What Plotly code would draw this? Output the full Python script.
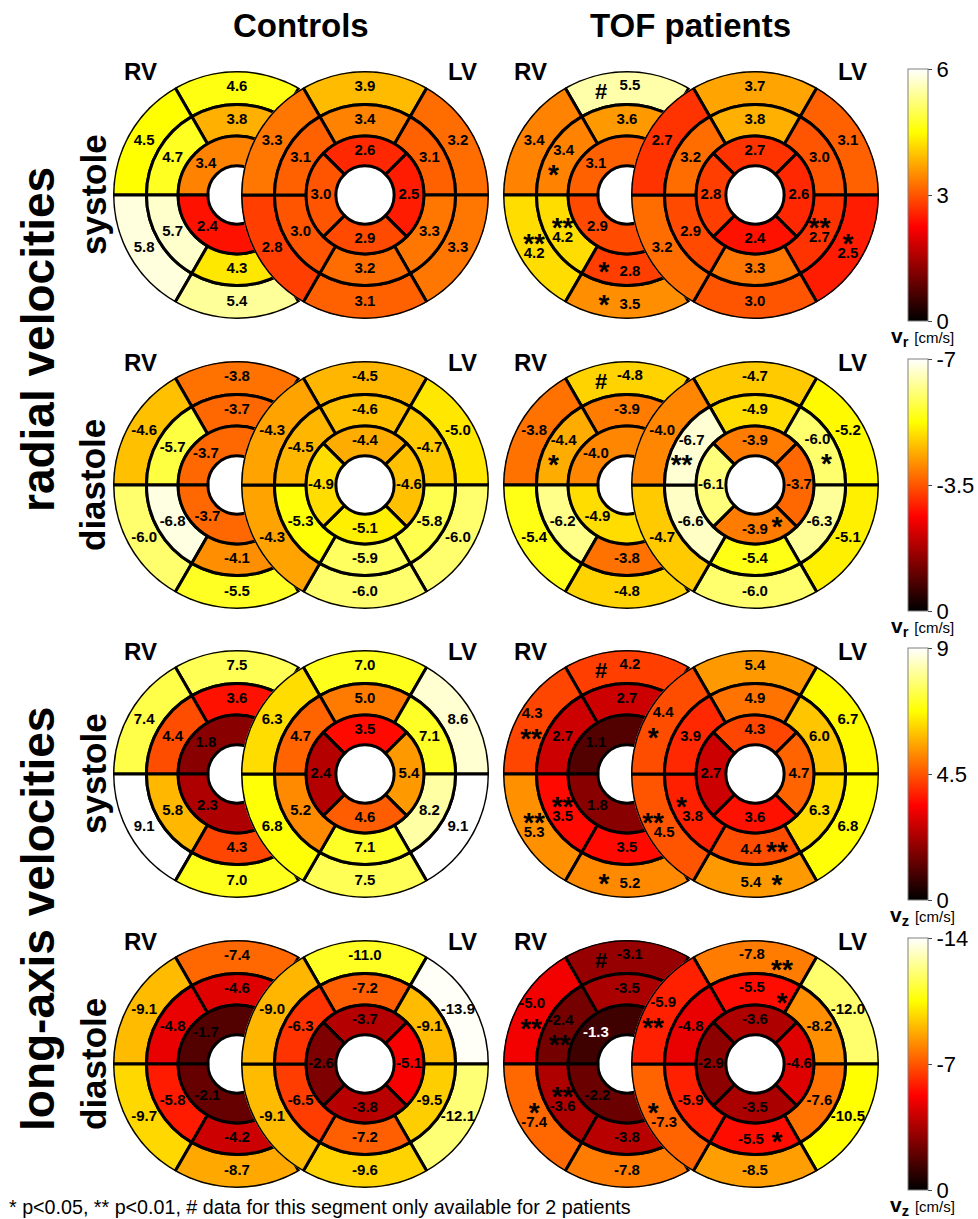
import numpy as np
import plotly.graph_objects as go

W, H = 978, 1219
FONT = "Liberation Sans, Arial, sans-serif"

# ------------------------------------------------------------------ data
# LV order: outer ring (top, upper-right, lower-right, bottom, lower-left, upper-left),
#           middle ring (same six), inner ring (top, right, bottom, left)
# RV order: outer ring (top, upper-left, lower-left, bottom), middle ring (same four),
#           inner ring (upper half, lower half)
CTRL_RAD_SYS_LV = [3.9, 3.2, 3.3, 3.1, 2.8, 3.3, 3.4, 3.1, 3.3, 3.2, 3.0, 3.1, 2.6, 2.5, 2.9, 3.0]
CTRL_RAD_SYS_RV = [4.6, 4.5, 5.8, 5.4, 3.8, 4.7, 5.7, 4.3, 3.4, 2.4]
TOF_RAD_SYS_LV = [3.7, 3.1, 2.5, 3.0, 3.2, 2.7, 3.8, 3.0, 2.7, 3.3, 2.9, 3.2, 2.7, 2.6, 2.4, 2.8]
TOF_RAD_SYS_RV = [5.5, 3.4, 4.2, 3.5, 3.6, 3.4, 4.2, 2.8, 3.1, 2.9]

CTRL_RAD_DIA_LV = [-4.5, -5.0, -6.0, -6.0, -4.3, -4.3, -4.6, -4.7, -5.8, -5.9, -5.3, -4.5, -4.4, -4.6, -5.1, -4.9]
CTRL_RAD_DIA_RV = [-3.8, -4.6, -6.0, -5.5, -3.7, -5.7, -6.8, -4.1, -3.7, -3.7]
TOF_RAD_DIA_LV = [-4.7, -5.2, -5.1, -6.0, -4.7, -4.0, -4.9, -6.0, -6.3, -5.4, -6.6, -6.7, -3.9, -3.7, -3.9, -6.1]
TOF_RAD_DIA_RV = [-4.8, -3.8, -5.4, -4.8, -3.9, -4.4, -6.2, -3.8, -4.0, -4.9]

CTRL_LAX_SYS_LV = [7.0, 8.6, 9.1, 7.5, 6.8, 6.3, 5.0, 7.1, 8.2, 7.1, 5.2, 4.7, 3.5, 5.4, 4.6, 2.4]
CTRL_LAX_SYS_RV = [7.5, 7.4, 9.1, 7.0, 3.6, 4.4, 5.8, 4.3, 1.8, 2.3]
TOF_LAX_SYS_LV = [5.4, 6.7, 6.8, 5.4, 4.5, 4.4, 4.9, 6.0, 6.3, 4.4, 3.8, 3.9, 4.3, 4.7, 3.6, 2.7]
TOF_LAX_SYS_RV = [4.2, 4.3, 5.3, 5.2, 2.7, 2.7, 3.5, 3.5, 1.1, 1.8]

CTRL_LAX_DIA_LV = [-11.0, -13.9, -12.1, -9.6, -9.1, -9.0, -7.2, -9.1, -9.5, -7.2, -6.5, -6.3, -3.7, -5.1, -3.8, -2.6]
CTRL_LAX_DIA_RV = [-7.4, -9.1, -9.7, -8.7, -4.6, -4.8, -5.8, -4.2, -1.7, -2.1]
TOF_LAX_DIA_LV = [-7.8, -12.0, -10.5, -8.5, -7.3, -5.9, -5.5, -8.2, -7.6, -5.5, -5.9, -4.8, -3.6, -4.6, -3.5, -2.9]
TOF_LAX_DIA_RV = [-3.1, -5.0, -7.4, -7.8, -3.5, -2.4, -3.6, -3.8, -1.3, -2.2]

# significance markers (segment index -> symbol)
TOF_RAD_SYS_LV_SIG = {2: "*", 8: "**"}
TOF_RAD_SYS_RV_SIG = {0: "#", 2: "**", 3: "*", 5: "*", 6: "**", 7: "*"}
TOF_RAD_DIA_LV_SIG = {7: "*", 11: "**", 14: "*"}
TOF_RAD_DIA_RV_SIG = {0: "#", 5: "*"}
TOF_LAX_SYS_LV_SIG = {3: "*", 4: "**", 5: "*", 9: "**", 10: "*"}
TOF_LAX_SYS_RV_SIG = {0: "#", 1: "**", 2: "**", 3: "*", 6: "**"}
TOF_LAX_DIA_LV_SIG = {0: "**", 4: "*", 5: "**", 6: "*", 9: "*"}
TOF_LAX_DIA_RV_SIG = {0: "#", 1: "**", 2: "*", 5: "**", 6: "**"}

ROW_VMAX = [6, 7, 9, 14]
ROW_TICKTEXT = [["0", "3", "6"], ["0", "-3.5", "-7"], ["0", "4.5", "9"], ["0", "-7", "-14"]]
ROW_VAR = ["r", "r", "z", "z"]
COL_TITLES = ["Controls", "TOF patients"]
PHASES = ["systole", "diastole", "systole", "diastole"]
GROUP_LABELS = ["radial velocities", "long-axis velocities"]
FOOTNOTE = "* p<0.05, ** p<0.01, # data for this segment only available for 2 patients"

PANELS = [
    [(CTRL_RAD_SYS_LV, CTRL_RAD_SYS_RV, {}, {}), (TOF_RAD_SYS_LV, TOF_RAD_SYS_RV, TOF_RAD_SYS_LV_SIG, TOF_RAD_SYS_RV_SIG)],
    [(CTRL_RAD_DIA_LV, CTRL_RAD_DIA_RV, {}, {}), (TOF_RAD_DIA_LV, TOF_RAD_DIA_RV, TOF_RAD_DIA_LV_SIG, TOF_RAD_DIA_RV_SIG)],
    [(CTRL_LAX_SYS_LV, CTRL_LAX_SYS_RV, {}, {}), (TOF_LAX_SYS_LV, TOF_LAX_SYS_RV, TOF_LAX_SYS_LV_SIG, TOF_LAX_SYS_RV_SIG)],
    [(CTRL_LAX_DIA_LV, CTRL_LAX_DIA_RV, {}, {}), (TOF_LAX_DIA_LV, TOF_LAX_DIA_RV, TOF_LAX_DIA_LV_SIG, TOF_LAX_DIA_RV_SIG)],
]

# ------------------------------------------------------------------ layout / style
SIGPOS = {
    (0, 1, "LV"): {2: "above", 8: "above"},
    (0, 1, "RV"): {0: "hash-left", 2: "above", 3: "left", 5: "below-left", 6: "above", 7: "left"},
    (1, 1, "LV"): {7: "below-right", 11: "below-left", 14: "right-high"},
    (1, 1, "RV"): {0: "hash-left", 5: "below-left"},
    (2, 1, "LV"): {3: "right", 4: "above-left", 5: "below-left", 9: "right", 10: "above-left"},
    (2, 1, "RV"): {0: "hash-left", 1: "below", 2: "above", 3: "left", 6: "above"},
    (3, 1, "LV"): {0: "right-low", 4: "above-left", 5: "below-left", 6: "right-low", 9: "right"},
    (3, 1, "RV"): {0: "hash-left", 1: "below", 2: "above", 5: "below", 6: "above"},
}
# (symbol dx, symbol dy, value dx, value dy) in pixels, y downwards
SIG_OFFSETS = {
    "above": (0, -11, 0, 6),
    "below": (-3, 12, -2, -6),
    "left": (-23, -4, 3, 3),
    "hash-left": (-26, 4, 3, -1),
    "right": (22, -3, -4, 2),
    "right-high": (22, -9, 0, 1),
    "right-low": (27, 7, -3, -1),
    "below-left": (-9, 11, 1, -7),
    "below-right": (7, 10, -2, -8),
    "above-left": (-9, -11, 2, 6),
}
SIG_FONT = {"*": 28, "#": 22}
SIG_RISE = {"*": 0.31, "#": 0.10}

HOT = [[0.0, "rgb(0,0,0)"], [0.375, "rgb(255,0,0)"], [0.75, "rgb(255,255,0)"], [1.0, "rgb(255,255,255)"]]

RING = [0.235, 0.475, 0.73, 1.0]
LABEL_R = [0.355, 0.60, 0.865]
R_PX = 124
COL_RV_X = [237, 627]
COL_LV_X = [365, 755]
ROW_Y = [195, 485, 774, 1064]

LV_THETA = [90, 30, 330, 270, 210, 150] * 2 + [90, 0, 270, 180]
LV_WIDTH = [60] * 12 + [90] * 4
LV_RINGIDX = [2] * 6 + [1] * 6 + [0] * 4
RV_THETA = [90, 150, 210, 270] * 2 + [90, 270]
RV_WIDTH = [60] * 8 + [180] * 2
RV_RINGIDX = [2] * 4 + [1] * 4 + [0] * 2
RV_LABEL_THETA = [90, 150, 210, 270] * 2 + [135, 228]


def shift(r, th, dx, dy):
    x = r * np.cos(np.radians(th)) + dx / R_PX
    y = r * np.sin(np.radians(th)) - dy / R_PX
    return float(np.hypot(x, y)), float(np.degrees(np.arctan2(y, x)))


fig = go.Figure()
polar_layouts = {}
pid = 0


def add_side(vals, theta, width, ringidx, label_theta, sig, sigpos, cx, cy, cax, vmax):
    global pid
    pid += 1
    name = "polar" if pid == 1 else f"polar{pid}"
    polar_layouts[name] = dict(
        domain=dict(x=[(cx - R_PX) / W, (cx + R_PX) / W], y=[1 - (cy + R_PX) / H, 1 - (cy - R_PX) / H]),
        bgcolor="white",
        barmode="overlay",
        radialaxis=dict(visible=False, range=[0, 1]),
        angularaxis=dict(visible=False, direction="counterclockwise", rotation=0),
    )
    vals = np.asarray(vals, dtype=float)
    mag = np.abs(vals)
    base = [RING[k] for k in ringidx]
    thick = [RING[k + 1] - RING[k] for k in ringidx]
    fig.add_trace(go.Barpolar(
        r=thick, base=base, theta=theta, width=width,
        marker=dict(color=mag, coloraxis=cax, line=dict(color="black", width=3)),
        subplot=name, hoverinfo="skip", showlegend=False))
    lr, lt, sr, st, stext, ssize = [], [], [], [], [], []
    for i in range(len(vals)):
        r0, t0 = LABEL_R[ringidx[i]], label_theta[i]
        if i in sig:
            sdx, sdy, vdx, vdy = SIG_OFFSETS[sigpos[i]]
            sym = sig[i]
            fs = SIG_FONT[sym[0]]
            r2, t2 = shift(r0, t0, sdx, sdy + SIG_RISE[sym[0]] * fs)
            sr.append(r2); st.append(t2); stext.append(sym); ssize.append(fs)
            r1, t1 = shift(r0, t0, vdx, vdy)
        else:
            r1, t1 = r0, t0
        lr.append(r1); lt.append(t1)
    colors = ["white" if m / vmax < 0.1 else "black" for m in mag]
    fig.add_trace(go.Scatterpolar(
        r=lr, theta=lt, mode="text", text=[f"{v:.1f}" for v in vals],
        textfont=dict(family=FONT, size=15, color=colors, weight="bold"),
        subplot=name, hoverinfo="skip", showlegend=False))
    if sr:
        fig.add_trace(go.Scatterpolar(
            r=sr, theta=st, mode="text", text=stext, textposition="middle center",
            textfont=dict(family=FONT, size=ssize, color="black", weight="bold"),
            subplot=name, hoverinfo="skip", showlegend=False))


annotations = []
for i, row in enumerate(PANELS):
    cy = ROW_Y[i]
    cax = "coloraxis" if i == 0 else f"coloraxis{i + 1}"
    for j, (lv, rv, lvsig, rvsig) in enumerate(row):
        add_side(rv, RV_THETA, RV_WIDTH, RV_RINGIDX, RV_LABEL_THETA, rvsig,
                 SIGPOS.get((i, j, "RV"), {}), COL_RV_X[j], cy, cax, ROW_VMAX[i])
        add_side(lv, LV_THETA, LV_WIDTH, LV_RINGIDX, LV_THETA, lvsig,
                 SIGPOS.get((i, j, "LV"), {}), COL_LV_X[j], cy, cax, ROW_VMAX[i])
        annotations.append(dict(x=(COL_RV_X[j] - 97) / W, y=1 - (cy - 123) / H, text="<b>RV</b>",
                                font=dict(size=24)))
        annotations.append(dict(x=(COL_LV_X[j] + 97) / W, y=1 - (cy - 123) / H, text="<b>LV</b>",
                                font=dict(size=24)))
    annotations.append(dict(x=93 / W, y=1 - cy / H, text=f"<b>{PHASES[i]}</b>", textangle=-90,
                            font=dict(size=35)))
    annotations.append(dict(x=922 / W, y=1 - (cy + 142) / H,
                            text=f"<b>v<sub>{ROW_VAR[i]}</sub></b> <span style='font-size:15px'>[cm/s]</span>",
                            font=dict(size=21)))

for k, lab in enumerate(GROUP_LABELS):
    yc = (ROW_Y[2 * k] + ROW_Y[2 * k + 1]) / 2
    annotations.append(dict(x=38 / W, y=1 - yc / H, text=f"<b>{lab}</b>", textangle=-90, font=dict(size=46)))

annotations.append(dict(x=301 / W, y=1 - 25 / H, text=f"<b>{COL_TITLES[0]}</b>", font=dict(size=33)))
annotations.append(dict(x=690 / W, y=1 - 25 / H, text=f"<b>{COL_TITLES[1]}</b>", font=dict(size=33)))
annotations.append(dict(x=7 / W, y=1 - 1207 / H, text=FOOTNOTE, xanchor="left", font=dict(size=19.7)))

for a in annotations:
    a.setdefault("xanchor", "center")
    a["yanchor"] = "middle"
    a["xref"] = "paper"
    a["yref"] = "paper"
    a["showarrow"] = False
    a["font"] = dict(family=FONT, color="black", **a["font"])

coloraxes = {}
for i in range(4):
    name = "coloraxis" if i == 0 else f"coloraxis{i + 1}"
    vmax = ROW_VMAX[i]
    coloraxes[name] = dict(
        colorscale=HOT, cmin=0, cmax=vmax,
        colorbar=dict(
            x=908 / W, xanchor="left", xpad=0, y=1 - ROW_Y[i] / H, yanchor="middle", ypad=0,
            len=252, lenmode="pixels", thickness=20, thicknessmode="pixels",
            outlinewidth=1, outlinecolor="#808080",
            tickmode="array", tickvals=[0, vmax / 2, vmax], ticktext=ROW_TICKTEXT[i],
            ticks="outside", ticklen=4, tickcolor="#444",
            tickfont=dict(family=FONT, size=22, color="black"),
        ),
    )

fig.update_layout(
    width=W, height=H, margin=dict(l=0, r=0, t=0, b=0, autoexpand=False),
    paper_bgcolor="white", plot_bgcolor="white", template="none", hovermode=False,
    annotations=annotations, **polar_layouts, **coloraxes,
)
fig.write_html("out.html")
